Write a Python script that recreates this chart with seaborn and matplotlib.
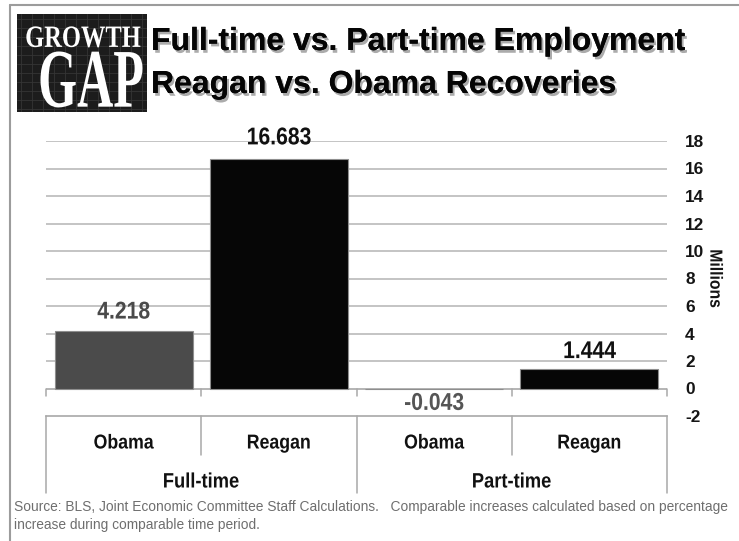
import matplotlib
matplotlib.use('Agg')
import matplotlib.pyplot as plt
import matplotlib.transforms as mtransforms
import matplotlib.patheffects as pe
from matplotlib.lines import Line2D
import seaborn as sns
import pandas as pd

# data
groups = ['Full-time', 'Full-time', 'Part-time', 'Part-time']
presidents = ['Obama', 'Reagan', 'Obama', 'Reagan']
values = [4.218, 16.683, -0.043, 1.444]
bar_colors = ['#4b4b4b', '#060606', '#6a6a6a', '#060606']
label_colors = ['#4a4a4a', '#111111', '#555555', '#111111']
yticks = list(range(-2, 20, 2))

W, H = 739, 541


class Stretch(pe.AbstractPathEffect):
    """scale the drawn text path about its bottom centre (narrow / tall lettering)"""
    def __init__(self, sx=1.0, sy=1.0, width=None, height=None):
        super().__init__()
        self.sx, self.sy = sx, sy
        self.width, self.height = width, height

    def draw_path(self, renderer, gc, tpath, affine, rgbFace=None):
        bb = tpath.get_extents(affine)
        sx = self.width / bb.width if self.width else self.sx
        sy = self.height / bb.height if self.height else self.sy
        cx = (bb.x0 + bb.x1) / 2
        cy = bb.y0 if self.height else (bb.y0 + bb.y1) / 2
        tr = affine + mtransforms.Affine2D().translate(-cx, -cy).scale(sx, sy).translate(cx, cy)
        renderer.draw_path(gc, tpath, tr, rgbFace)


def fx(px):
    return px / W


def fy(py):
    return 1 - py / H


df = pd.DataFrame({'group': groups, 'president': presidents, 'value': values})
df['cat'] = df['group'] + ' ' + df['president']

sns.set_style('white')
plt.rcParams['font.family'] = ['Liberation Sans', 'DejaVu Sans']

fig = plt.figure(figsize=(W / 100, H / 100), dpi=100)
ax = fig.add_axes([fx(46), fy(416), fx(667) - fx(46), fy(141) - fy(416)])

sns.barplot(data=df, x='cat', y='value', hue='cat', palette=bar_colors,
            legend=False, width=0.89, ax=ax, zorder=3,
            edgecolor='#8e8e8e', linewidth=0.8)

ax.set_xlim(-0.5, 3.5)
ax.set_ylim(-2, 18)
ax.set_xticks([])
ax.set_xlabel('')
for s in ['top', 'left', 'right']:
    ax.spines[s].set_visible(False)
ax.spines['bottom'].set_color('#a8a8a8')
ax.spines['bottom'].set_linewidth(1.2)

# gridlines + zero axis
for t in yticks[2:]:
    ax.axhline(t, color='#b4b4b4', lw=1.1, zorder=1)
ax.axhline(0, color='#a8a8a8', lw=1.2, zorder=2)
for b in [-0.5, 0.5, 1.5, 2.5, 3.5]:
    ax.plot([b, b], [0, -0.55], color='#a8a8a8', lw=1.1, clip_on=False)

# right axis
ax.yaxis.tick_right()
ax.set_yticks(yticks)
ax.set_yticklabels([str(t) for t in yticks], fontsize=12.4, fontweight='bold', color='#151515')
ax.tick_params(axis='y', length=0, pad=13)
ax.yaxis.set_label_position('right')
ax.set_ylabel('Millions', rotation=270, fontsize=12.6, fontweight='bold', color='#151515',
              labelpad=13, path_effects=[Stretch(sy=0.9)])

# value labels
narrow = [Stretch(sx=0.87)]
pads = [5, 7, 2, 4]
for bar, v, c, p in zip(ax.patches, values, label_colors, pads):
    xc = bar.get_x() + bar.get_width() / 2
    va = 'bottom' if v >= 0 else 'top'
    off = p if v >= 0 else -p
    ax.annotate(f'{v:.3f}', (xc, v), xytext=(0, off), textcoords='offset points',
                ha='center', va=va, fontsize=17.5, fontweight='bold', color=c,
                path_effects=narrow)

# category table below the axis
blend = mtransforms.blended_transform_factory(ax.transData, fig.transFigure)
for b in [-0.5, 1.5, 3.5]:
    ax.add_line(Line2D([b, b], [fy(416), fy(493)], transform=blend, color='#a8a8a8', lw=1.1, clip_on=False))
for b in [0.5, 2.5]:
    ax.add_line(Line2D([b, b], [fy(416), fy(455)], transform=blend, color='#a8a8a8', lw=1.1, clip_on=False))
for i, p in enumerate(presidents):
    ax.text(i, fy(443), p, transform=blend, ha='center', va='center',
            fontsize=14.5, fontweight='bold', color='#111111', path_effects=[Stretch(sx=0.88)])
for g, xc in zip(['Full-time', 'Part-time'], [0.5, 2.5]):
    ax.text(xc, fy(482), g, transform=blend, ha='center', va='center',
            fontsize=15, fontweight='bold', color='#111111', path_effects=[Stretch(sx=0.88)])

# footnote
fig.text(fx(14), fy(507), 'Source: BLS, Joint Economic Committee Staff Calculations.   '
         'Comparable increases calculated based on percentage',
         ha='left', va='center', fontsize=9.95, color='#6e6e6e')
fig.text(fx(14), fy(525), 'increase during comparable time period.',
         ha='left', va='center', fontsize=9.95, color='#6e6e6e')

# title
shadow = [pe.withSimplePatchShadow(offset=(1.5, -2), shadow_rgbFace='#666666', alpha=0.55), pe.Normal()]
fig.text(fx(151), fy(50), 'Full-time vs. Part-time Employment', ha='left', va='baseline',
         fontsize=23, fontweight='bold', color='#050505', path_effects=shadow)
fig.text(fx(151), fy(93), 'Reagan vs. Obama Recoveries', ha='left', va='baseline',
         fontsize=23, fontweight='bold', color='#050505', path_effects=shadow)

# logo block
lg = fig.add_axes([fx(17), fy(112), fx(147) - fx(17), fy(14) - fy(112)])
lg.set_facecolor('#1c1c1c')
lg.set_xlim(0, 130)
lg.set_ylim(0, 98)
for k in range(4, 130, 11):
    lg.axvline(k, color='#353535', lw=0.6)
for k in range(3, 98, 9):
    lg.axhline(k, color='#353535', lw=0.6)
lg.set_xticks([])
lg.set_yticks([])
for s in lg.spines.values():
    s.set_visible(False)
lg.text(66, 65, 'GROWTH', ha='center', va='baseline', color='white',
        fontsize=17, fontweight='bold', family=['Liberation Serif', 'DejaVu Serif'],
        path_effects=[Stretch(width=114, height=21)])
lg.text(74, 5, 'GAP', ha='center', va='baseline', color='white',
        fontsize=35, fontweight='bold', family=['Liberation Serif', 'DejaVu Serif'],
        path_effects=[Stretch(width=102, height=56)])

# outer frame
fig.add_artist(Line2D([fx(10), fx(10)], [fy(5), 0], color='#9c9c9c', lw=1.5))
fig.add_artist(Line2D([fx(10), 1], [fy(5), fy(5)], color='#9c9c9c', lw=1.5))

fig.savefig('out.png', dpi=100)
